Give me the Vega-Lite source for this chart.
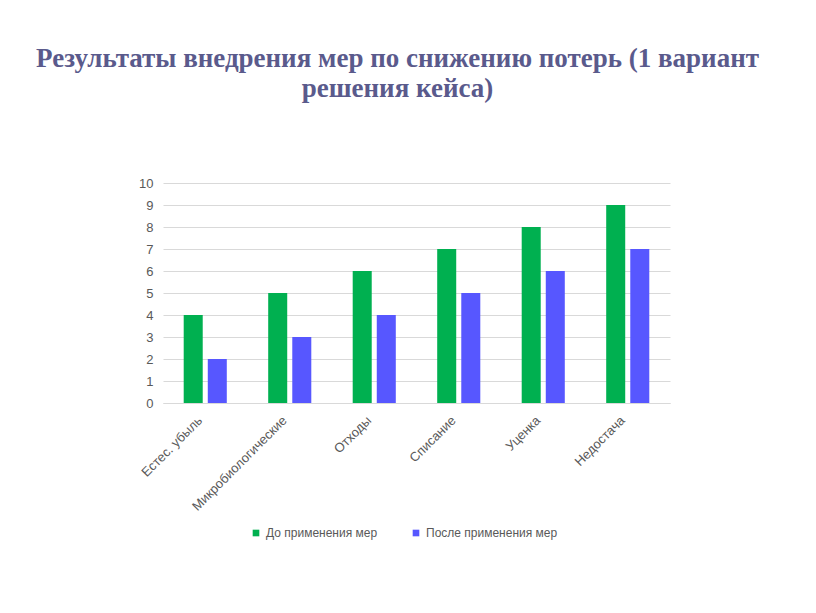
{
  "$schema": "https://vega.github.io/schema/vega-lite/v6.json",
  "autosize": {"type": "none"},
  "padding": {"left": 163, "top": 183, "right": 146, "bottom": 210},
  "width": 507,
  "height": 220,
  "background": "white",
  "title": {
    "text": ["Результаты внедрения мер по снижению потерь (1 вариант", "решения кейса)"],
    "font": "Liberation Serif",
    "fontSize": 27,
    "fontWeight": "bold",
    "color": "#5a5a8c",
    "lineHeight": 30,
    "anchor": "middle",
    "dx": -19,
    "offset": 74
  },
  "data": {
    "values": [
      {"category": "Естес. убыль", "series": "До применения мер", "value": 4},
      {"category": "Естес. убыль", "series": "После применения мер", "value": 2},
      {"category": "Микробиологические", "series": "До применения мер", "value": 5},
      {"category": "Микробиологические", "series": "После применения мер", "value": 3},
      {"category": "Отходы", "series": "До применения мер", "value": 6},
      {"category": "Отходы", "series": "После применения мер", "value": 4},
      {"category": "Списание", "series": "До применения мер", "value": 7},
      {"category": "Списание", "series": "После применения мер", "value": 5},
      {"category": "Уценка", "series": "До применения мер", "value": 8},
      {"category": "Уценка", "series": "После применения мер", "value": 6},
      {"category": "Недостача", "series": "До применения мер", "value": 9},
      {"category": "Недостача", "series": "После применения мер", "value": 7}
    ]
  },
  "mark": {"type": "bar"},
  "encoding": {
    "x": {
      "field": "category",
      "type": "nominal",
      "sort": null,
      "scale": {"paddingInner": 0.49, "paddingOuter": 0.245},
      "axis": {
        "title": null,
        "labelAngle": -45,
        "labelAlign": "right",
        "labelBaseline": "middle",
        "labelFont": "Liberation Sans",
        "labelFontSize": 13,
        "labelColor": "#595959",
        "labelPadding": 15,
        "labelOffset": -5,
        "ticks": false,
        "domain": true,
        "domainColor": "#d9d9d9"
      }
    },
    "xOffset": {
      "field": "series",
      "type": "nominal",
      "scale": {"paddingInner": 0.21}
    },
    "y": {
      "field": "value",
      "type": "quantitative",
      "scale": {"domain": [0, 10]},
      "axis": {
        "title": null,
        "values": [0, 1, 2, 3, 4, 5, 6, 7, 8, 9, 10],
        "labelFont": "Liberation Sans",
        "labelFontSize": 13,
        "labelColor": "#595959",
        "labelPadding": 10,
        "ticks": false,
        "domain": false,
        "grid": true,
        "gridColor": "#d9d9d9"
      }
    },
    "color": {
      "field": "series",
      "type": "nominal",
      "scale": {"domain": ["До применения мер", "После применения мер"], "range": ["#00b050", "#5757ff"]},
      "legend": {
        "title": null,
        "orient": "none",
        "legendX": 87,
        "legendY": 344,
        "direction": "horizontal",
        "symbolType": "square",
        "symbolSize": 44,
        "symbolStrokeWidth": 0,
        "labelFont": "Liberation Sans",
        "labelFontSize": 12,
        "labelColor": "#595959",
        "columnPadding": 32
      }
    }
  },
  "config": {
    "view": {"stroke": null}
  }
}
